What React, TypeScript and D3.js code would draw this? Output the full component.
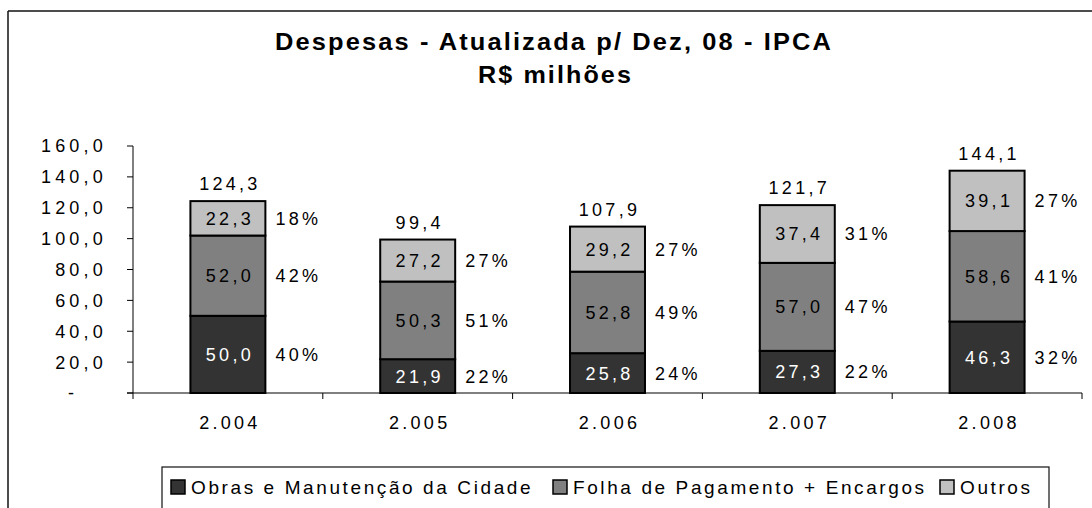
import React from "react";
import * as d3 from "d3";

const categories = ["2.004", "2.005", "2.006", "2.007", "2.008"];
const obras = [50.0, 21.9, 25.8, 27.3, 46.3];
const folha = [52.0, 50.3, 52.8, 57.0, 58.6];
const outros = [22.3, 27.2, 29.2, 37.4, 39.1];
const totals = [124.3, 99.4, 107.9, 121.7, 144.1];
const pctObras = [40, 22, 24, 22, 32];
const pctFolha = [42, 51, 49, 47, 41];
const pctOutros = [18, 27, 27, 31, 27];
const yTicks = [0, 20, 40, 60, 80, 100, 120, 140, 160];
const seriesNames = ["Obras e Manutenção da Cidade", "Folha de Pagamento + Encargos", "Outros"];
const seriesColors = ["#333333", "#808080", "#c0c0c0"];
const labelColors = ["#ffffff", "#000000", "#000000"];

const FONT = "'Liberation Sans', Arial, sans-serif";

export default function App() {
  const W = 1092, H = 508;
  const x0 = 133, x1 = 1082, yTop = 146, yBot = 393;
  const x = d3.scaleBand<string>().domain(categories).range([x0, x1]).paddingInner(0.605).paddingOuter(0.3025);
  const y = d3.scaleLinear().domain([0, 160]).range([yBot, yTop]);
  const fmt = (v: number) => v.toFixed(1).replace(".", ",");

  const series = [obras, folha, outros];
  const pcts = [pctObras, pctFolha, pctOutros];
  const stackData = categories.map((c, i) => ({ c, s0: obras[i], s1: folha[i], s2: outros[i] }));
  const stacked = d3.stack<any>().keys(["s0", "s1", "s2"])(stackData);

  const band = (x1 - x0) / categories.length;
  const boundaries = d3.range(categories.length + 1).map((i) => x0 + i * band);

  const numStyle: React.CSSProperties = { fontFamily: FONT, fontSize: 18, letterSpacing: 3.3 };
  const yStyle: React.CSSProperties = { fontFamily: FONT, fontSize: 18, letterSpacing: 4.2 };

  const legendX = [171, 553, 940];

  return (
    <svg width={W} height={H} style={{ position: "absolute", left: 0, top: 0, background: "#fff" }}>
      {/* outer border */}
      <line x1={8} y1={11} x2={W} y2={11} stroke="#111" strokeWidth={1.5} />
      <line x1={8} y1={11} x2={8} y2={H} stroke="#111" strokeWidth={1.5} />

      {/* title */}
      <text x={554} y={50} textAnchor="middle" textLength={558} lengthAdjust="spacingAndGlyphs"
        style={{ fontFamily: FONT, fontSize: 24, fontWeight: "bold", letterSpacing: 2 }}>
        Despesas - Atualizada p/ Dez, 08 - IPCA
      </text>
      <text x={555.5} y={83} textAnchor="middle" textLength={155} lengthAdjust="spacingAndGlyphs"
        style={{ fontFamily: FONT, fontSize: 24, fontWeight: "bold", letterSpacing: 2 }}>
        R$ milhões
      </text>

      {/* y axis */}
      <line x1={x0} y1={yTop} x2={x0} y2={yBot} stroke="#000" strokeWidth={1} />
      {yTicks.map((t) => (
        <g key={t}>
          <line x1={x0 - 6} x2={x0} y1={y(t)} y2={y(t)} stroke="#000" strokeWidth={1} />
          {t === 0 ? (
            <text x={73} y={y(t)} dy="0.36em" textAnchor="middle" style={yStyle}>-</text>
          ) : (
            <text x={107} y={y(t)} dy="0.36em" textAnchor="end" style={yStyle}>{fmt(t)}</text>
          )}
        </g>
      ))}

      {/* bars */}
      {stacked.map((layer, si) => (
        <g key={si}>
          {layer.map((d, i) => (
            <rect key={i} x={x(categories[i])} y={y(d[1])} width={x.bandwidth()} height={y(d[0]) - y(d[1])}
              fill={seriesColors[si]} stroke="#000" strokeWidth={2} />
          ))}
        </g>
      ))}

      {/* segment labels */}
      {stacked.map((layer, si) => (
        <g key={"l" + si}>
          {layer.map((d, i) => {
            const cy = (y(d[0]) + y(d[1])) / 2;
            const bx = x(categories[i])!;
            return (
              <g key={i}>
                <text x={bx + x.bandwidth() / 2 + 2} y={cy} dy="0.36em" textAnchor="middle"
                  fill={labelColors[si]} style={numStyle}>
                  {fmt(series[si][i])}
                </text>
                <text x={bx + x.bandwidth() + 10} y={cy} dy="0.36em" textAnchor="start" style={numStyle}>
                  {pcts[si][i] + "%"}
                </text>
              </g>
            );
          })}
        </g>
      ))}

      {/* totals */}
      {categories.map((c, i) => (
        <text key={c} x={x(c)! + x.bandwidth() / 2 + 2} y={y(stacked[2][i][1]) - 11} textAnchor="middle" style={numStyle}>
          {fmt(totals[i])}
        </text>
      ))}

      {/* x axis */}
      <line x1={x0 - 6} x2={x1} y1={yBot} y2={yBot} stroke="#000" strokeWidth={1} />
      {boundaries.map((b, i) => (
        <line key={i} x1={b} x2={b} y1={yBot} y2={yBot + 6} stroke="#000" strokeWidth={1} />
      ))}
      {categories.map((c) => (
        <text key={c} x={x(c)! + x.bandwidth() / 2 + 2} y={429} textAnchor="middle" style={numStyle}>
          {c}
        </text>
      ))}

      {/* legend */}
      <rect x={162} y={467} width={1049 - 162} height={60} fill="#fff" stroke="#111" strokeWidth={1.2} />
      {seriesNames.map((n, i) => (
        <g key={n}>
          <rect x={legendX[i]} y={480} width={14} height={14} fill={seriesColors[i]} stroke="#000" strokeWidth={1.5} />
          <text x={legendX[i] + 20} y={494} style={{ fontFamily: FONT, fontSize: 19, letterSpacing: 2.6 }}>
            {n}
          </text>
        </g>
      ))}
    </svg>
  );
}
